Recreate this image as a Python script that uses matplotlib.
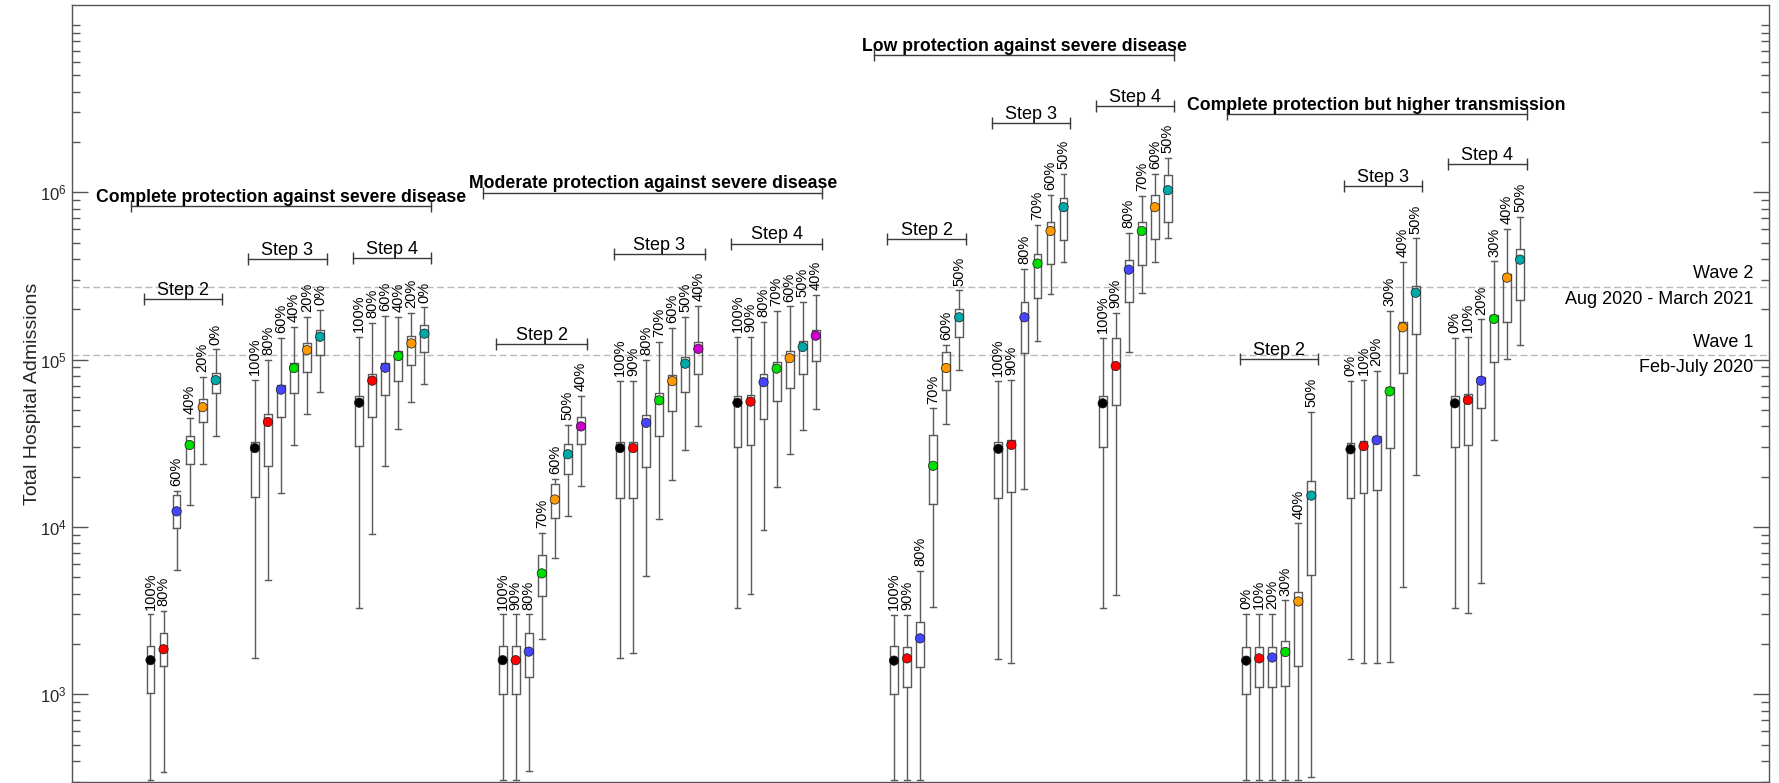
import numpy as np
import matplotlib
matplotlib.use("Agg")
import matplotlib.pyplot as plt
from matplotlib.ticker import FixedLocator, NullFormatter, FixedFormatter

# ---- data ----
# each scenario: three steps (Step 2, Step 3, Step 4)
cp_labels = [["100%", "80%", "60%", "40%", "20%", "0%"]] * 3
cp_med = [[1600, 1860, 12400, 30900, 52000, 75400],
          [29600, 42400, 66200, 89000, 114000, 137000],
          [55300, 74900, 89500, 105000, 125000, 143000]]
cp_q3 = [[1950, 2330, 15600, 35100, 58100, 83600],
         [32100, 47300, 70500, 95300, 125000, 150000],
         [61000, 82400, 95900, 112000, 138000, 162000]]
cp_q1 = [[1015, 1480, 9800, 23900, 42400, 63000],
         [15100, 23300, 45700, 63500, 84700, 106000],
         [30500, 45400, 61400, 75000, 92700, 111000]]
cp_hi = [[3000, 3140, 16500, 44500, 79200, 115000],
         [75500, 100000, 135000, 157000, 181000, 199000],
         [136000, 166000, 182000, 181000, 191000, 205000]]
cp_lo = [[306, 344, 5530, 13600, 23900, 35100],
         [1640, 4800, 16000, 30900, 47600, 64000],
         [3280, 9140, 23000, 38700, 55700, 71400]]

mp_labels = [["100%", "90%", "80%", "70%", "60%", "50%", "40%"]] * 3
mp_med = [[1600, 1600, 1800, 5280, 14600, 27200, 39900],
          [29600, 29600, 41900, 57100, 74400, 94600, 116000],
          [55200, 56100, 73300, 88400, 102000, 119000, 139000]]
mp_q3 = [[1950, 1950, 2340, 6830, 18100, 31400, 45500],
         [32000, 32000, 46700, 63200, 81400, 103000, 128000],
         [60700, 61600, 81600, 97000, 112000, 129000, 151000]]
mp_q1 = [[1010, 1010, 1270, 3890, 11300, 20700, 31400],
         [15000, 15000, 22700, 35000, 49300, 64500, 81800],
         [30100, 31100, 44100, 56500, 67600, 81600, 97600]]
mp_hi = [[3000, 3000, 3000, 9160, 19400, 40600, 60700],
         [74400, 74400, 100000, 128000, 155000, 180000, 209000],
         [136000, 137000, 168000, 195000, 208000, 222000, 243000]]
mp_lo = [[309, 309, 348, 2140, 6550, 11600, 17600],
         [1650, 1770, 5060, 11200, 19000, 28900, 39900],
         [3290, 3990, 9650, 17300, 27200, 38000, 50400]]

lp_labels = [["100%", "90%", "80%", "70%", "60%", "50%"]] * 3
lp_med = [[1590, 1640, 2160, 23200, 89100, 179000],
          [29300, 30900, 179000, 375000, 587000, 815000],
          [54800, 91600, 345000, 587000, 815000, 1030000]]
lp_q3 = [[1940, 1930, 2690, 35600, 111000, 200000],
         [32000, 33300, 222000, 426000, 663000, 925000],
         [60600, 135000, 394000, 666000, 968000, 1260000]]
lp_q1 = [[1000, 1100, 1460, 13800, 65900, 136000],
         [14800, 16200, 110000, 232000, 373000, 520000],
         [30200, 53700, 222000, 367000, 523000, 666000]]
lp_hi = [[2990, 2990, 5470, 51100, 122000, 259000],
         [74300, 75800, 348000, 640000, 970000, 1290000],
         [135000, 190000, 575000, 949000, 1290000, 1610000]]
lp_lo = [[308, 308, 308, 3310, 41500, 87300],
         [1630, 1530, 16800, 129000, 248000, 385000],
         [3290, 3930, 111000, 250000, 381000, 533000]]

ht_labels = [["0%", "10%", "20%", "30%", "40%", "50%"]] * 3
ht_med = [[1590, 1640, 1660, 1790, 3590, 15400],
          [29100, 30400, 33000, 64600, 156000, 251000],
          [54800, 57300, 74800, 175000, 309000, 396000]]
ht_q3 = [[1920, 1920, 1920, 2070, 4070, 18700],
         [31800, 32600, 35200, 68900, 169000, 274000],
         [60700, 62700, 78700, 185000, 327000, 461000]]
ht_q1 = [[1005, 1100, 1100, 1120, 1480, 5150],
         [14900, 16000, 16600, 29800, 82800, 142000],
         [30200, 31000, 51400, 96900, 169000, 228000]]
ht_hi = [[3010, 3010, 3010, 3640, 10500, 48900],
         [74300, 75200, 85900, 196000, 385000, 530000],
         [135000, 137000, 174000, 386000, 601000, 713000]]
ht_lo = [[307, 307, 307, 307, 307, 321],
         [1630, 1540, 1540, 1560, 4360, 20400],
         [3290, 3050, 4620, 33000, 101000, 123000]]

group_titles = ["Complete protection against severe disease",
                "Moderate protection against severe disease",
                "Low protection against severe disease",
                "Complete protection but higher transmission"]
step_names = ["Step 2", "Step 3", "Step 4"]

wave_values = [107000, 273000]
wave_labels = [("Wave 1", "Feb-July 2020"), ("Wave 2", "Aug 2020 - March 2021")]

# annotation heights (log10 of y)
title_y = [5.916, 5.998, 6.818, 6.466]
step_y = [[5.364, 5.603, 5.609],
          [5.091, 5.629, 5.694],
          [5.722, 6.414, 6.516],
          [5.002, 6.037, 6.169]]

dot_colors = ["#000000", "#ff0000", "#4545ff", "#00dd00", "#ff9900", "#00a8a8", "#cc00cc"]

plt.rcParams["font.family"] = ["Liberation Sans", "DejaVu Sans"]
plt.rcParams["mathtext.fontset"] = "custom"
plt.rcParams["mathtext.rm"] = "Liberation Sans"
plt.rcParams["mathtext.it"] = "Liberation Sans:italic"

fig = plt.figure(figsize=(17.79, 7.83), dpi=100)
ax = fig.add_axes([0.0406, 0.0015, 0.9539, 0.9917])

line_c = "#5a5a5a"
bracket_c = "#3a3a3a"

groups = [
    (cp_labels, cp_med, cp_q1, cp_q3, cp_lo, cp_hi),
    (mp_labels, mp_med, mp_q1, mp_q3, mp_lo, mp_hi),
    (lp_labels, lp_med, lp_q1, lp_q3, lp_lo, lp_hi),
    (ht_labels, ht_med, ht_q1, ht_q3, ht_lo, ht_hi),
]

start = 0
for gi, (labs, med, q1, q3, lo, hi) in enumerate(groups):
    g_first = start
    for si in range(3):
        n = len(labs[si])
        xs = start + np.arange(n)
        stats = [dict(med=med[si][k], q1=q1[si][k], q3=q3[si][k],
                      whislo=lo[si][k], whishi=hi[si][k]) for k in range(n)]
        ax.bxp(stats, positions=xs, widths=0.6, capwidths=0.45, showfliers=False,
               boxprops=dict(color=line_c, lw=1.0),
               whiskerprops=dict(color=line_c, lw=1.0),
               capprops=dict(color=line_c, lw=1.0),
               medianprops=dict(lw=0))
        ax.scatter(xs, med[si], s=45, c=dot_colors[:n], edgecolors="#1a1a1a",
                   linewidths=0.5, zorder=3)
        for k in range(n):
            ax.annotate(labs[si][k], xy=(xs[k], hi[si][k]), xytext=(0, 3.5),
                        textcoords="offset points", rotation=90,
                        ha="center", va="bottom", fontsize=10.5)
        # step bracket
        yb = 10 ** step_y[gi][si]
        ax.plot([xs[0] - 0.5, xs[-1] + 0.5], [yb, yb], color=bracket_c, lw=1,
                marker="|", ms=8, mew=1)
        ax.annotate(step_names[si], xy=((xs[0] + xs[-1]) / 2, yb), xytext=(0, 3),
                    textcoords="offset points", ha="center", va="baseline",
                    fontsize=13)
        start = xs[-1] + 3
    g_last = start - 3
    yt = 10 ** title_y[gi]
    ax.plot([g_first - 1.5, g_last + 0.5], [yt, yt], color=bracket_c, lw=1,
            marker="|", ms=8, mew=1)
    ax.annotate(group_titles[gi], xy=((g_first - 1.5 + g_last + 0.5) / 2, yt),
                xytext=(0, 3), textcoords="offset points", ha="center",
                va="baseline", fontsize=12.7, fontweight="bold")
    start += 3

# wave reference lines
for wv, (top_txt, bot_txt) in zip(wave_values, wave_labels):
    ax.axhline(wv, color="#b9b9b9", lw=1, dashes=(5, 2.5), zorder=0)
    ax.annotate(top_txt, xy=(122.9, wv), xytext=(0, 3), textcoords="offset points",
                ha="right", va="bottom", fontsize=13)
    ax.annotate(bot_txt, xy=(122.9, wv), xytext=(0, -3), textcoords="offset points",
                ha="right", va="top", fontsize=13)

ax.set_yscale("log")
ax.set_ylim(300, 1.31e7)
ax.set_xlim(-6, 124.1)
ax.set_xticks([])

majors = [1e3, 1e4, 1e5, 1e6]
minors = [m * 10.0 ** e for e in range(2, 8) for m in range(1, 10)
          if 300 <= m * 10.0 ** e <= 1.31e7 and m * 10.0 ** e not in majors]
ax.yaxis.set_major_locator(FixedLocator(majors))
ax.yaxis.set_major_formatter(FixedFormatter([r"$10^{3}$", r"$10^{4}$", r"$10^{5}$", r"$10^{6}$"]))
ax.yaxis.set_minor_locator(FixedLocator(minors))
ax.yaxis.set_minor_formatter(NullFormatter())
ax.tick_params(axis="y", which="both", direction="in", left=True, right=True,
               colors="#555555", labelcolor="#262626", labelsize=12, pad=4)
ax.tick_params(axis="y", which="major", length=11.5, width=1)
ax.tick_params(axis="y", which="minor", length=6, width=1)

for sp in ax.spines.values():
    sp.set_color("#555555")
    sp.set_linewidth(1)

ax.set_ylabel("Total Hospital Admissions", fontsize=14, color="#262626")
ax.yaxis.set_label_coords(-0.0185, 0.5)

fig.savefig("out.png", dpi=100)
